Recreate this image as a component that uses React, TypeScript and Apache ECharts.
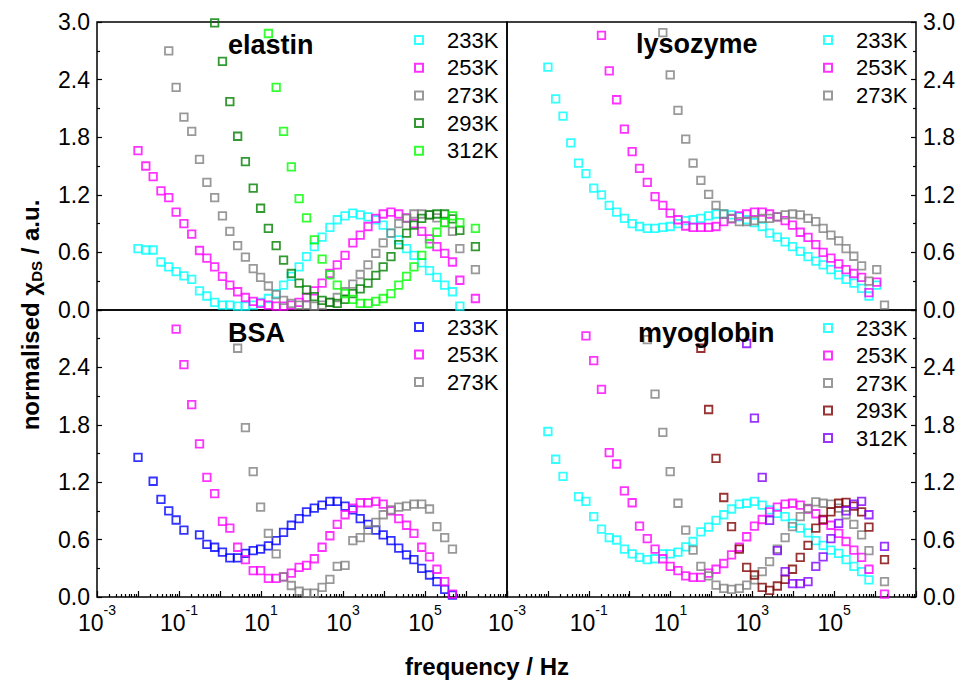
import React, { useEffect, useRef } from 'react';
import * as echarts from 'echarts';

// log10(frequency / Hz) of the measurement grid
const LOG_F = [
  -2.0, -1.81, -1.63, -1.44, -1.25, -1.07, -0.88, -0.69, -0.5, -0.32,
  -0.13, 0.06, 0.24, 0.43, 0.62, 0.81, 0.99, 1.18, 1.37, 1.55,
  1.74, 1.93, 2.11, 2.3, 2.49, 2.68, 2.86, 3.05, 3.24, 3.42,
  3.61, 3.8, 3.98, 4.17, 4.36, 4.55, 4.73, 4.92, 5.11, 5.29,
  5.48, 5.67, 5.85, 6.04, 6.23,
];

// elastin
const EL_233 = [0.64, 0.625, 0.625, 0.5, 0.45, 0.4, 0.355, 0.32, 0.2, 0.146, 0.08, 0.05, 0.05, 0.04, 0.04, 0.05, 0.08, 0.12, 0.17, 0.26, 0.35, 0.45, 0.555, 0.66, 0.76, 0.86, 0.94, 0.98, 1.01, 0.99, 0.97, 0.94, 0.885, 0.8, 0.73, 0.64, 0.57, 0.49, 0.41, 0.34, 0.26, 0.19, 0.04];
const EL_253 = [1.66, 1.5, 1.39, 1.24, 1.17, 1.02, 0.9, 0.79, 0.62, 0.54, 0.45, 0.35, 0.26, 0.19, 0.13, 0.09, 0.07, 0.05, 0.04, 0.04, 0.05, 0.08, 0.13, 0.2, 0.28, 0.38, 0.47, 0.57, 0.7, 0.78, 0.87, 0.955, 1.0, 1.02, 1.0, 0.96, 0.9, 0.82, 0.74, 0.66, 0.59, 0.5, 0.31, null, 0.12];
const EL_273 = [2.7, 2.32, 2.01, 1.86, 1.57, 1.33, 1.17, 0.98, 0.82, 0.67, 0.55, 0.43, 0.34, 0.25, 0.16, 0.1, 0.07, 0.05, 0.05, 0.04, 0.05, 0.08, 0.13, 0.19, 0.27, 0.37, 0.47, 0.59, 0.7, 0.8, 0.9, 0.955, 1.0, 1.0, 0.99, 0.96, 0.91, 0.82, 0.64, null, 0.42];
const EL_293 = [2.99, 2.59, 2.17, 1.81, 1.545, 1.27, 1.06, 0.85, 0.67, 0.52, 0.38, 0.28, 0.21, 0.14, 0.1, 0.08, 0.07, 0.11, 0.17, 0.22, 0.28, 0.36, 0.45, 0.555, 0.68, 0.8, 0.885, 0.955, 0.99, 1.0, 1.0, 0.95, 0.83, null, 0.66];
const EL_312 = [2.88, 2.32, 1.86, 1.49, 1.16, 0.96, 0.73, 0.53, 0.365, 0.26, 0.17, 0.11, 0.07, 0.07, 0.09, 0.12, 0.17, 0.26, 0.35, 0.45, 0.57, 0.69, 0.81, 0.91, 0.98, 0.91, null, 0.85];

// lysozyme
const LY_233 = [2.53, 2.2, 2.02, 1.74, 1.53, 1.42, 1.27, 1.2, 1.09, 1.02, 0.955, 0.9, 0.87, 0.85, 0.85, 0.86, 0.87, 0.9, 0.93, 0.94, 0.955, 0.98, 1.0, 1.0, 0.99, 0.97, 0.94, 0.91, 0.87, 0.8, 0.76, 0.71, 0.66, 0.61, 0.555, 0.51, 0.47, 0.42, 0.365, 0.32, 0.28, 0.225, 0.146, 0.26];
const LY_253 = [2.86, 2.49, 2.19, 1.885, 1.65, 1.476, 1.33, 1.18, 1.09, 1.01, 0.94, 0.875, 0.86, 0.86, 0.86, 0.87, 0.92, 0.95, 0.98, 1.0, 1.02, 1.02, 1.0, 0.97, 0.93, 0.885, 0.81, 0.757, 0.68, 0.6, 0.54, 0.48, 0.42, 0.38, 0.34, 0.18, 0.29];
const LY_273 = [2.89, 2.45, 2.08, 1.78, 1.53, 1.35, 1.205, 1.09, 1.0, 0.955, 0.92, 0.92, 0.93, 0.955, 0.955, 0.97, 0.99, 1.0, 0.99, 0.955, 0.92, 0.85, 0.78, 0.72, 0.64, 0.56, 0.46, 0.3, 0.42, 0.05];

// BSA
const BSA_233 = [1.46, null, 1.21, 1.02, 0.9, 0.805, 0.7, null, 0.65, 0.55, 0.52, 0.47, 0.41, 0.41, 0.455, 0.485, 0.5, 0.535, 0.59, 0.675, 0.75, 0.82, 0.89, 0.93, 0.96, 1.0, 1.0, 0.95, 0.91, 0.82, 0.76, 0.7, 0.65, 0.59, 0.51, 0.44, 0.39, 0.3, 0.23, 0.16, 0.08, 0.02];
const BSA_253 = [2.8, 2.43, 2.01, 1.6, 1.25, 1.08, 0.79, 0.72, 0.52, 0.39, 0.275, 0.275, 0.195, 0.195, 0.21, 0.25, 0.31, 0.33, 0.4, 0.52, 0.64, 0.76, 0.86, 0.93, 0.985, 0.985, 1.0, 0.97, 0.9, 0.82, 0.75, 0.665, 0.52, 0.42, 0.29, 0.16, 0.03];
const BSA_273 = [2.6, 1.77, 1.31, 0.94, 0.665, 0.45, 0.21, 0.12, 0.06, 0.04, 0.04, 0.1, 0.185, 0.32, 0.33, 0.59, 0.62, 0.7, 0.78, 0.86, 0.91, 0.94, 0.95, 0.97, 0.97, 0.92, 0.735, 0.62, 0.5];

// myoglobin
const MY_233 = [1.73, 1.44, 1.26, null, 1.05, 1.0, 0.84, 0.71, 0.62, 0.596, 0.5, 0.45, 0.415, 0.39, 0.4, 0.45, 0.45, 0.47, 0.525, 0.58, 0.68, 0.73, 0.8, 0.86, 0.92, 0.97, 0.98, 1.0, 0.96, 0.91, 0.875, 0.84, 0.77, 0.72, 0.67, 0.59, 0.54, 0.49, 0.455, 0.39, 0.32, 0.265, 0.18];
const MY_253 = [2.73, 2.47, 2.17, 1.51, 1.39, 1.11, 0.985, 0.74, 0.61, 0.5, 0.4, 0.32, 0.275, 0.22, 0.205, 0.205, 0.25, 0.29, 0.35, 0.44, 0.52, 0.63, 0.74, 0.81, 0.89, 0.94, 0.97, 0.98, 0.96, 0.92, 0.87, 0.8, 0.75, 0.665, 0.58, 0.49, 0.415, 0.29, null, 0.03];
const MY_273 = [2.69, 2.12, 1.72, 1.31, 0.98, 0.7, 0.49, 0.32, 0.22, 0.125, 0.09, 0.08, 0.09, 0.125, 0.18, 0.265, 0.37, 0.5, 0.62, 0.735, 0.84, 0.925, 0.995, 0.98, 0.97, 0.93, 0.86, 0.76, 0.65, 0.485, null, 0.16];
const MY_293 = [2.6, 1.96, 1.45, 1.04, 0.735, 0.5, 0.31, 0.23, 0.1, 0.07, 0.115, 0.185, 0.29, 0.415, 0.54, 0.72, 0.81, 0.89, 0.98, 0.99, 0.95, 0.89, 0.73, null, 0.39];
const MY_312 = [2.65, 1.87, 1.25, 0.8, 0.485, 0.265, 0.14, 0.14, 0.16, 0.32, 0.42, 0.61, 0.77, 0.9, 0.97, 1.0, 0.86, null, 0.53];

const Y_TICKS_LABELS = ['0.0', '0.6', '1.2', '1.8', '2.4', '3.0'];
const X_LABEL_EXP = [-3, -1, 1, 3, 5];
const DECADES = [-3, -2, -1, 0, 1, 2, 3, 4, 5, 6, 7];

const C = {
  cyan: '#00FFFF',
  magenta: '#FF00FF',
  gray: '#808080',
  dkgreen: '#008000',
  green: '#00FF00',
  blue: '#0000FF',
  dkred: '#800000',
  purple: '#8000FF',
};

type S = { label: string; start: number; vals: (number | null)[]; color: string };

const PANELS: { title: string; series: S[] }[] = [
  {
    title: 'elastin',
    series: [
      { label: '233K', start: 0, vals: EL_233, color: C.cyan },
      { label: '253K', start: 0, vals: EL_253, color: C.magenta },
      { label: '273K', start: 4, vals: EL_273, color: C.gray },
      { label: '293K', start: 10, vals: EL_293, color: C.dkgreen },
      { label: '312K', start: 17, vals: EL_312, color: C.green },
    ],
  },
  {
    title: 'lysozyme',
    series: [
      { label: '233K', start: 0, vals: LY_233, color: C.cyan },
      { label: '253K', start: 7, vals: LY_253, color: C.magenta },
      { label: '273K', start: 15, vals: LY_273, color: C.gray },
    ],
  },
  {
    title: 'BSA',
    series: [
      { label: '233K', start: 0, vals: BSA_233, color: C.blue },
      { label: '253K', start: 5, vals: BSA_253, color: C.magenta },
      { label: '273K', start: 13, vals: BSA_273, color: C.gray },
    ],
  },
  {
    title: 'myoglobin',
    series: [
      { label: '233K', start: 0, vals: MY_233, color: C.cyan },
      { label: '253K', start: 5, vals: MY_253, color: C.magenta },
      { label: '273K', start: 13, vals: MY_273, color: C.gray },
      { label: '293K', start: 20, vals: MY_293, color: C.dkred },
      { label: '312K', start: 26, vals: MY_312, color: C.purple },
    ],
  },
];

const FONT = '"Liberation Sans", Arial, Helvetica, sans-serif';

// layout (pixels)
const GRIDS = [
  { left: 97, top: 22, width: 410, height: 288 },
  { left: 507, top: 22, width: 409, height: 288 },
  { left: 97, top: 310, width: 410, height: 287 },
  { left: 507, top: 310, width: 409, height: 287 },
];
const LEGEND_POS = [
  { left: 414, top: 29, gap: 5.7 },
  { left: 823, top: 29, gap: 5.7 },
  { left: 414, top: 316, gap: 5.5 },
  { left: 823, top: 317, gap: 5.5 },
];
const TITLE_POS = [
  { x: 228, y: 45 },
  { x: 636, y: 44 },
  { x: 228, y: 333 },
  { x: 638, y: 333 },
];

function buildOption() {
  const minorTicks: number[] = [];
  for (let n = -3; n < 7; n++) {
    for (let k = 2; k <= 9; k++) minorTicks.push(n + Math.log10(k));
  }
  const tickLine = { color: '#000', width: 1.2 };

  const xAxis: any[] = [];
  // top panels: hidden axes (frame drawn by grid border)
  xAxis.push({ type: 'value', gridIndex: 0, min: -3, max: 7, show: false, axisLine: { onZero: false } });
  xAxis.push({ type: 'value', gridIndex: 1, min: -3, max: 7, show: false, axisLine: { onZero: false } });
  [2, 3].forEach((g) => {
    xAxis.push({
      type: 'value',
      gridIndex: g,
      min: -3,
      max: 7,
      position: 'bottom',
      axisLine: { show: false, onZero: false },
      splitLine: { show: false },
      axisTick: { show: true, inside: true, length: 6, lineStyle: tickLine, customValues: DECADES },
      axisLabel: {
        show: true,
        customValues: X_LABEL_EXP,
        margin: 6,
        formatter: (v: number) => `{b|10}{s|${v}}`,
        rich: {
          b: { fontSize: 23, fontFamily: FONT, color: '#000', lineHeight: 31, verticalAlign: 'bottom' },
          s: { fontSize: 14, fontFamily: FONT, color: '#000', lineHeight: 14, verticalAlign: 'top' },
        },
      },
    });
    xAxis.push({
      type: 'value',
      gridIndex: g,
      min: -3,
      max: 7,
      position: 'bottom',
      axisLine: { show: false, onZero: false },
      splitLine: { show: false },
      axisLabel: { show: false },
      axisTick: { show: true, inside: true, length: 3, lineStyle: tickLine, customValues: minorTicks },
    });
  });

  const yAxis = GRIDS.map((_, g) => ({
    type: 'value',
    gridIndex: g,
    min: 0,
    max: 3,
    interval: 0.6,
    position: g % 2 === 0 ? 'left' : 'right',
    axisLine: { show: false, onZero: false },
    splitLine: { show: false },
    axisTick: { show: true, inside: true, length: 5, lineStyle: tickLine },
    minorTick: { show: true, splitNumber: 2, length: 3, lineStyle: tickLine },
    axisLabel: {
      show: true,
      showMinLabel: true,
      showMaxLabel: true,
      fontSize: 23,
      fontFamily: FONT,
      color: '#000',
      margin: 7,
      formatter: (v: number) => {
        const idx = Math.round(v / 0.6);
        if (g >= 2 && idx === 5) return '';
        return Y_TICKS_LABELS[idx] ?? '';
      },
    },
  }));

  const xAxisIndexForGrid = [0, 1, 2, 4];
  const series: any[] = [];
  const legend: any[] = [];
  PANELS.forEach((p, g) => {
    const names: string[] = [];
    p.series.forEach((s) => {
      const name = `${p.title} ${s.label}`;
      names.push(name);
      const data = s.vals
        .map((v, k) => (v == null ? null : [LOG_F[s.start + k], v]))
        .filter((d) => d != null);
      series.push({
        type: 'scatter',
        name,
        xAxisIndex: xAxisIndexForGrid[g],
        yAxisIndex: g,
        data,
        symbol: 'rect',
        symbolSize: 7.5,
        silent: true,
        itemStyle: { color: 'rgba(0,0,0,0)', borderColor: s.color, borderWidth: 1.8 },
        emphasis: { disabled: true },
      });
    });
    const lp = LEGEND_POS[g];
    legend.push({
      data: names,
      orient: 'vertical',
      left: lp.left,
      top: lp.top,
      padding: 0,
      itemGap: lp.gap,
      itemWidth: 8,
      itemHeight: 8,
      icon: 'rect',
      selectedMode: false,
      formatter: (name: string) => `{sp|}{t|${name.split(' ')[1]}}`,
      textStyle: {
        fontSize: 22,
        fontFamily: FONT,
        color: '#000',
        lineHeight: 22,
        rich: {
          sp: { width: 19, fontSize: 22, lineHeight: 22 },
          t: { fontSize: 22, fontFamily: FONT, color: '#000', lineHeight: 22 },
        },
      },
    });
  });

  const graphic: any[] = PANELS.map((p, g) => ({
    type: 'text',
    x: TITLE_POS[g].x,
    y: TITLE_POS[g].y,
    z: 10,
    style: {
      text: p.title,
      fontSize: 27,
      fontWeight: 'bold',
      fontFamily: FONT,
      fill: '#000',
      align: 'left',
      verticalAlign: 'middle',
    },
  }));
  graphic.push({
    type: 'text',
    x: 487,
    y: 666,
    style: {
      text: 'frequency / Hz',
      fontSize: 24,
      fontWeight: 'bold',
      fontFamily: FONT,
      fill: '#000',
      align: 'center',
      verticalAlign: 'middle',
    },
  });
  graphic.push({
    type: 'text',
    x: 30,
    y: 315,
    rotation: Math.PI / 2,
    style: {
      text: '{n|normalised χ}{s|DS}{n| / a.u.}',
      align: 'center',
      verticalAlign: 'middle',
      rich: {
        n: { fontSize: 24, fontWeight: 'bold', fontFamily: FONT, fill: '#000', color: '#000', lineHeight: 28, verticalAlign: 'middle' },
        s: { fontSize: 15, fontWeight: 'bold', fontFamily: FONT, fill: '#000', color: '#000', lineHeight: 28, verticalAlign: 'bottom', padding: [10, 0, 0, 0] },
      },
    },
  });

  return {
    animation: false,
    backgroundColor: '#ffffff',
    grid: GRIDS.map((g) => ({ ...g, show: true, borderColor: '#000', borderWidth: 1.5, backgroundColor: 'transparent', containLabel: false })),
    xAxis,
    yAxis,
    legend,
    series,
    graphic,
  };
}

export default function App() {
  const ref = useRef<HTMLDivElement>(null);
  useEffect(() => {
    if (!ref.current) return;
    const chart = echarts.init(ref.current, undefined, { renderer: 'svg', width: 960, height: 680 });
    chart.setOption(buildOption() as any);
    return () => chart.dispose();
  }, []);
  return (
    <div
      ref={ref}
      style={{ position: 'fixed', left: 0, top: 0, width: 960, height: 680, background: '#fff' }}
    />
  );
}
